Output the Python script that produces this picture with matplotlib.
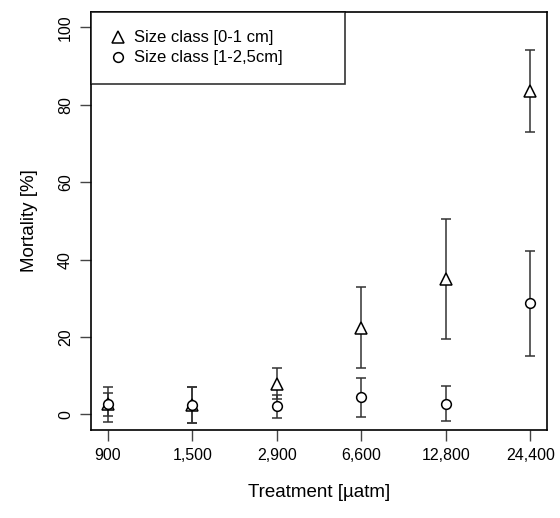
import matplotlib
matplotlib.use("Agg")
import matplotlib.pyplot as plt
import numpy as np

plt.rcParams['font.family'] = ['Liberation Sans', 'DejaVu Sans']

treatments = ["900", "1,500", "2,900", "6,600", "12,800", "24,400"]
small_mean = [2.6, 2.5, 8.0, 22.4, 35.0, 83.5]
small_err = [4.6, 4.6, 4.0, 10.5, 15.5, 10.6]
large_mean = [2.6, 2.5, 2.1, 4.4, 2.8, 28.7]
large_err = [3.0, 4.6, 3.0, 5.0, 4.6, 13.5]
yticks = [0, 20, 40, 60, 80, 100]

fig = plt.figure(figsize=(5.6, 5.18), dpi=100)
ax = fig.add_axes([0.1625, 0.170, 0.8145, 0.8068])

x = np.arange(1, len(treatments) + 1)
ecol = '#333333'
ax.errorbar(x, small_mean, yerr=small_err, fmt='none', ecolor=ecol,
            elinewidth=1.1, capsize=3.5, capthick=1.1, zorder=2)
ax.errorbar(x, large_mean, yerr=large_err, fmt='none', ecolor=ecol,
            elinewidth=1.1, capsize=3.5, capthick=1.1, zorder=2)
ax.plot(x, small_mean, linestyle='none', marker='^', markersize=8.5,
        markerfacecolor='white', markeredgecolor='black', markeredgewidth=1.1,
        label='Size class [0-1 cm]', zorder=3)
ax.plot(x, large_mean, linestyle='none', marker='o', markersize=7,
        markerfacecolor='white', markeredgecolor='black', markeredgewidth=1.1,
        label='Size class [1-2,5cm]', zorder=3)

ax.set_xlim(0.8, 6.2)
ax.set_ylim(-4, 104)
ax.set_xticks(x)
ax.set_xticklabels(treatments, fontsize=11.5)
ax.set_yticks(yticks)
ax.set_yticklabels([str(v) for v in yticks], fontsize=11.5, rotation=90, va='center')
ax.tick_params(axis='both', direction='out', length=8, width=1, color='#444444', pad=5)
for s in ax.spines.values():
    s.set_linewidth(1.2)
    s.set_color('black')

ax.set_xlabel('Treatment [µatm]', fontsize=13.5, labelpad=15)
ax.set_ylabel('Mortality [%]', fontsize=13.5, labelpad=14)

leg = ax.legend(loc='upper left', bbox_to_anchor=(0, 0, 0.557, 1), mode='expand',
                borderaxespad=0,
                fontsize=12, frameon=True, fancybox=False, handletextpad=0.5,
                borderpad=1.1, handlelength=1.0, labelspacing=0.3)
leg.get_frame().set_edgecolor('black')
leg.get_frame().set_linewidth(1.2)

fig.savefig('out.png', dpi=100)
